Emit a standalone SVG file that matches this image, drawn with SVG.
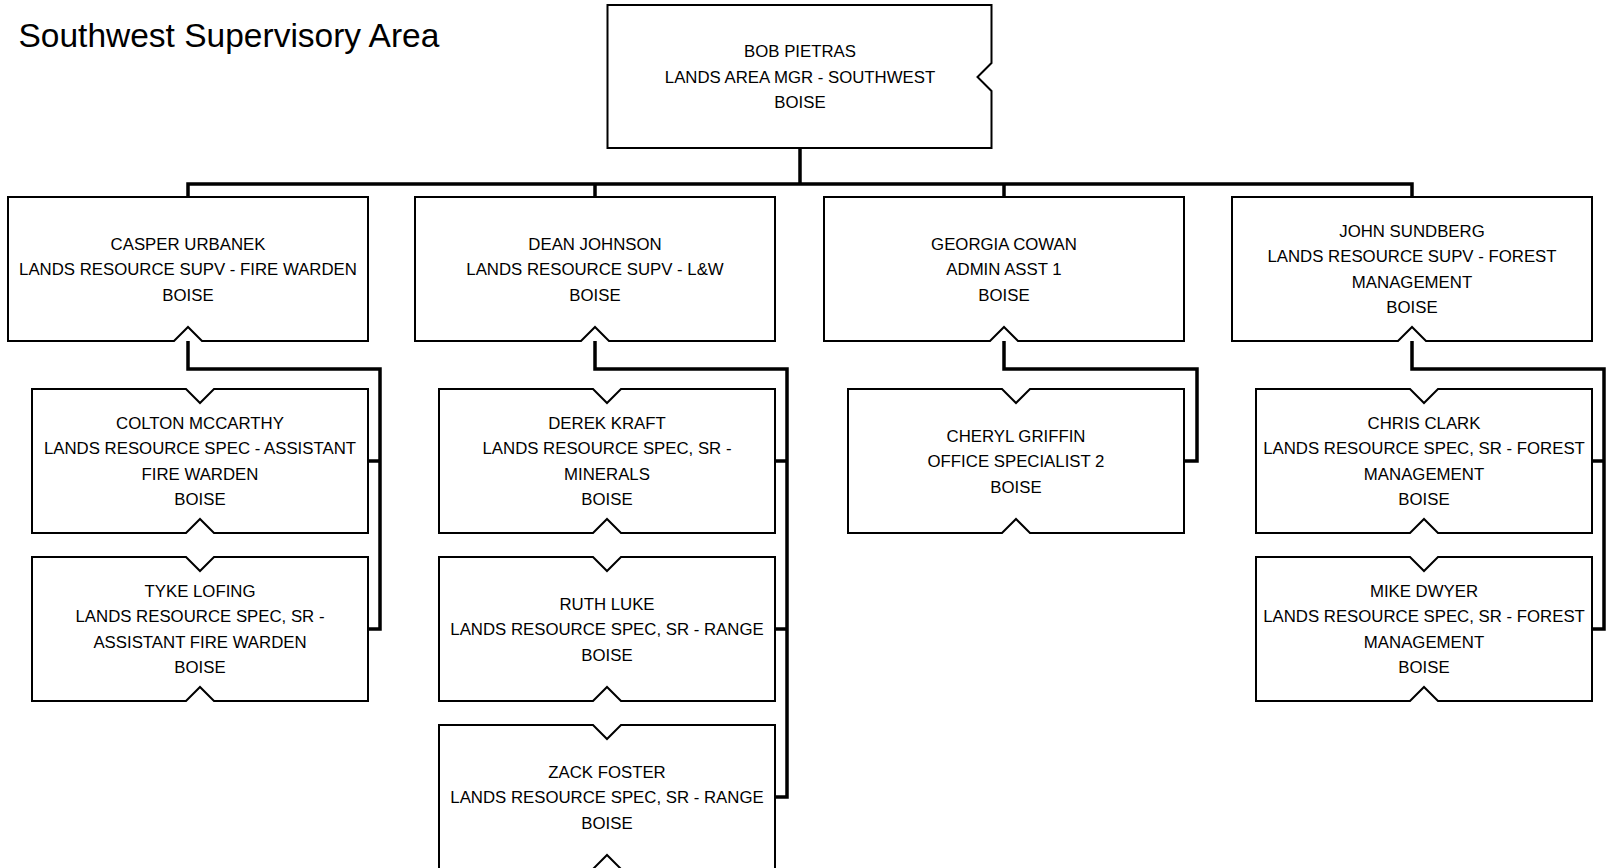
<svg xmlns="http://www.w3.org/2000/svg" width="1618" height="868" viewBox="0 0 1618 868">
<style>
.box{fill:#fff;stroke:#000;stroke-width:2;stroke-linejoin:miter}
.conn{fill:none;stroke:#000;stroke-width:3.5;stroke-linejoin:miter;stroke-linecap:butt}
.lbl{font-family:"Liberation Sans",Arial,sans-serif;font-size:16.8px;fill:#000;text-anchor:middle}
.title{font-family:"Liberation Sans",Arial,sans-serif;font-size:33.5px;fill:#000}
</style>
<rect width="1618" height="868" fill="#fff"/>
<text class="title" x="18.5" y="47.3">Southwest Supervisory Area</text>

<g id="connectors">
<path class="conn" d="M800,148 V184 M188,197 V184 H1412 V197 M595,184 V197 M1004,184 V197"/>
<path class="conn" d="M188,341 V369 H380 V629 H368 M380,461 H368"/>
<path class="conn" d="M595,341 V369 H787 V797 H775 M787,461 H775 M787,629 H775"/>
<path class="conn" d="M1004,341 V369 H1197 V461 H1184"/>
<path class="conn" d="M1412,341 V369 H1604 V629 H1592 M1604,461 H1592"/>
</g>

<g id="bob-pietras">
<path class="box" d="M607.5,5 H991.5 V63 L977.5,77 L991.5,91 V148 H607.5 Z"/>
<text class="lbl"><tspan x="800" y="57">BOB PIETRAS</tspan><tspan x="800" y="82.5">LANDS AREA MGR - SOUTHWEST</tspan><tspan x="800" y="108">BOISE</tspan></text>
</g>

<g id="casper-urbanek">
<path class="box" d="M8,197 H368 V341 H202 L188,327 L174,341 H8 Z"/>
<text class="lbl"><tspan x="188" y="249.5">CASPER URBANEK</tspan><tspan x="188" y="275">LANDS RESOURCE SUPV - FIRE WARDEN</tspan><tspan x="188" y="300.5">BOISE</tspan></text>
</g>

<g id="dean-johnson">
<path class="box" d="M415,197 H775 V341 H609 L595,327 L581,341 H415 Z"/>
<text class="lbl"><tspan x="595" y="249.5">DEAN JOHNSON</tspan><tspan x="595" y="275">LANDS RESOURCE SUPV - L&amp;W</tspan><tspan x="595" y="300.5">BOISE</tspan></text>
</g>

<g id="georgia-cowan">
<path class="box" d="M824,197 H1184 V341 H1018 L1004,327 L990,341 H824 Z"/>
<text class="lbl"><tspan x="1004" y="249.5">GEORGIA COWAN</tspan><tspan x="1004" y="275">ADMIN ASST 1</tspan><tspan x="1004" y="300.5">BOISE</tspan></text>
</g>

<g id="john-sundberg">
<path class="box" d="M1232,197 H1592 V341 H1426 L1412,327 L1398,341 H1232 Z"/>
<text class="lbl"><tspan x="1412" y="236.75">JOHN SUNDBERG</tspan><tspan x="1412" y="262.25">LANDS RESOURCE SUPV - FOREST</tspan><tspan x="1412" y="287.75">MANAGEMENT</tspan><tspan x="1412" y="313.25">BOISE</tspan></text>
</g>

<g id="colton-mccarthy">
<path class="box" d="M32,389 H186 L200,403 L214,389 H368 V533 H214 L200,519 L186,533 H32 Z"/>
<text class="lbl"><tspan x="200" y="428.75">COLTON MCCARTHY</tspan><tspan x="200" y="454.25">LANDS RESOURCE SPEC - ASSISTANT</tspan><tspan x="200" y="479.75">FIRE WARDEN</tspan><tspan x="200" y="505.25">BOISE</tspan></text>
</g>

<g id="tyke-lofing">
<path class="box" d="M32,557 H186 L200,571 L214,557 H368 V701 H214 L200,687 L186,701 H32 Z"/>
<text class="lbl"><tspan x="200" y="596.75">TYKE LOFING</tspan><tspan x="200" y="622.25">LANDS RESOURCE SPEC, SR -</tspan><tspan x="200" y="647.75">ASSISTANT FIRE WARDEN</tspan><tspan x="200" y="673.25">BOISE</tspan></text>
</g>

<g id="derek-kraft">
<path class="box" d="M439,389 H593 L607,403 L621,389 H775 V533 H621 L607,519 L593,533 H439 Z"/>
<text class="lbl"><tspan x="607" y="428.75">DEREK KRAFT</tspan><tspan x="607" y="454.25">LANDS RESOURCE SPEC, SR -</tspan><tspan x="607" y="479.75">MINERALS</tspan><tspan x="607" y="505.25">BOISE</tspan></text>
</g>

<g id="ruth-luke">
<path class="box" d="M439,557 H593 L607,571 L621,557 H775 V701 H621 L607,687 L593,701 H439 Z"/>
<text class="lbl"><tspan x="607" y="609.5">RUTH LUKE</tspan><tspan x="607" y="635">LANDS RESOURCE SPEC, SR - RANGE</tspan><tspan x="607" y="660.5">BOISE</tspan></text>
</g>

<g id="zack-foster">
<path class="box" d="M439,725 H593 L607,739 L621,725 H775 V869 H621 L607,855 L593,869 H439 Z"/>
<text class="lbl"><tspan x="607" y="777.5">ZACK FOSTER</tspan><tspan x="607" y="803">LANDS RESOURCE SPEC, SR - RANGE</tspan><tspan x="607" y="828.5">BOISE</tspan></text>
</g>

<g id="cheryl-griffin">
<path class="box" d="M848,389 H1002 L1016,403 L1030,389 H1184 V533 H1030 L1016,519 L1002,533 H848 Z"/>
<text class="lbl"><tspan x="1016" y="441.5">CHERYL GRIFFIN</tspan><tspan x="1016" y="467">OFFICE SPECIALIST 2</tspan><tspan x="1016" y="492.5">BOISE</tspan></text>
</g>

<g id="chris-clark">
<path class="box" d="M1256,389 H1410 L1424,403 L1438,389 H1592 V533 H1438 L1424,519 L1410,533 H1256 Z"/>
<text class="lbl"><tspan x="1424" y="428.75">CHRIS CLARK</tspan><tspan x="1424" y="454.25">LANDS RESOURCE SPEC, SR - FOREST</tspan><tspan x="1424" y="479.75">MANAGEMENT</tspan><tspan x="1424" y="505.25">BOISE</tspan></text>
</g>

<g id="mike-dwyer">
<path class="box" d="M1256,557 H1410 L1424,571 L1438,557 H1592 V701 H1438 L1424,687 L1410,701 H1256 Z"/>
<text class="lbl"><tspan x="1424" y="596.75">MIKE DWYER</tspan><tspan x="1424" y="622.25">LANDS RESOURCE SPEC, SR - FOREST</tspan><tspan x="1424" y="647.75">MANAGEMENT</tspan><tspan x="1424" y="673.25">BOISE</tspan></text>
</g>
</svg>
